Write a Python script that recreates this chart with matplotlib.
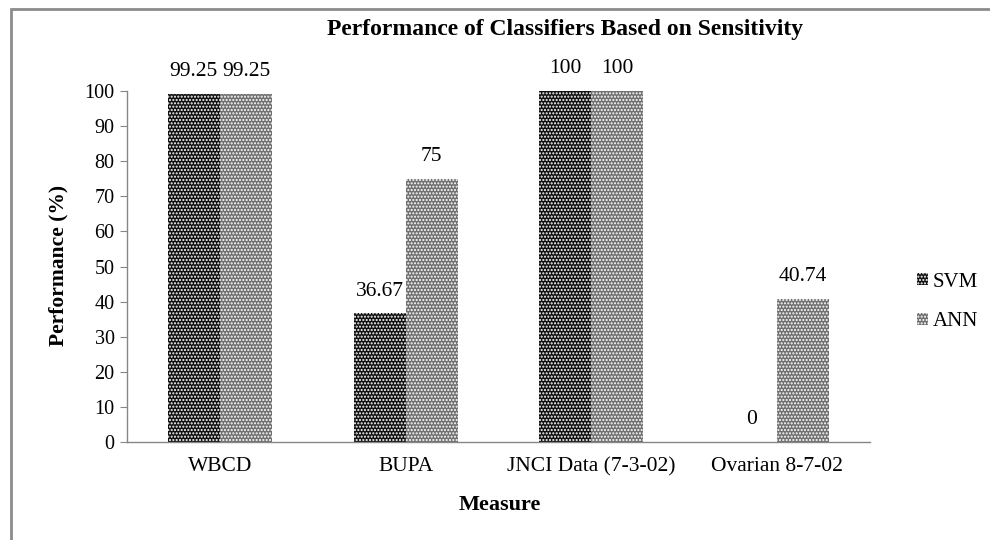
import matplotlib.pyplot as plt
import matplotlib.patches as mpatches
import numpy as np

plt.rcParams['font.family'] = ['Liberation Serif', 'DejaVu Serif']
plt.rcParams['hatch.linewidth'] = 1.0

# data
datasets = ['WBCD', 'BUPA', 'JNCI Data (7-3-02)', 'Ovarian 8-7-02']
svm_vals = [99.25, 36.67, 100, 0]
ann_vals = [99.25, 75, 100, 40.74]
series_names = ['SVM', 'ANN']

W, H = 990, 540
fig = plt.figure(figsize=(W / 100, H / 100), dpi=100)
ax = fig.add_axes([127 / W, 1 - 442 / H, (870 - 127) / W, (442 - 91) / H])

x = np.arange(len(datasets))
w = 0.28
styles = [dict(color='#111111', edgecolor='white', hatch='.....', linewidth=0),
          dict(color='#707070', edgecolor='white', hatch='.....', linewidth=0)]

for i, vals in enumerate([svm_vals, ann_vals]):
    bars = ax.bar(x + (i - 0.5) * w, vals, w, **styles[i])
    for b, v in zip(bars, vals):
        ax.annotate(f"{v:g}", (b.get_x() + b.get_width() / 2, v),
                    xytext=(0, 16), textcoords='offset points',
                    ha='center', va='center', fontsize=15.5)

ax.set_xlim(-0.5, len(datasets) - 0.5)
ax.set_ylim(0, 100)
ax.set_yticks(range(0, 101, 10))
ax.set_xticks(x)
ax.set_xticklabels(datasets)

for s in ['top', 'right']:
    ax.spines[s].set_visible(False)
for s in ['left', 'bottom']:
    ax.spines[s].set_color('#868686')
    ax.spines[s].set_linewidth(1)

ax.tick_params(axis='y', length=5, color='#868686', pad=4, labelsize=14.5)
ax.tick_params(axis='x', length=0, pad=11, labelsize=15.5)

fig.text(565 / W, 1 - 30 / H, 'Performance of Classifiers Based on Sensitivity',
         ha='center', va='center', fontsize=17, fontweight='bold')
fig.text(58 / W, 1 - 265 / H, 'Performance (%)', rotation=90,
         ha='center', va='center', fontsize=15.5, fontweight='bold')
fig.text(500 / W, 1 - 505 / H, 'Measure', ha='center', va='center',
         fontsize=16, fontweight='bold')

handles = [mpatches.Patch(facecolor=styles[i]['color'], edgecolor='white',
                          hatch=styles[i]['hatch'], linewidth=0, label=series_names[i])
           for i in range(2)]
fig.legend(handles=handles, loc='center left', bbox_to_anchor=(898 / W, 1 - 302 / H),
           frameon=False, fontsize=15, handlelength=0.55, handleheight=0.55,
           handletextpad=0.2, labelspacing=1.0)

# outer chart border (runs off the right and bottom edges)
fig.add_artist(mpatches.Rectangle((11 / W, -0.1), 1.2, 1 - 9 / H + 0.1,
                                  transform=fig.transFigure, fill=False,
                                  edgecolor='#8c8c8c', linewidth=2))

fig.savefig('out.png', dpi=100)
